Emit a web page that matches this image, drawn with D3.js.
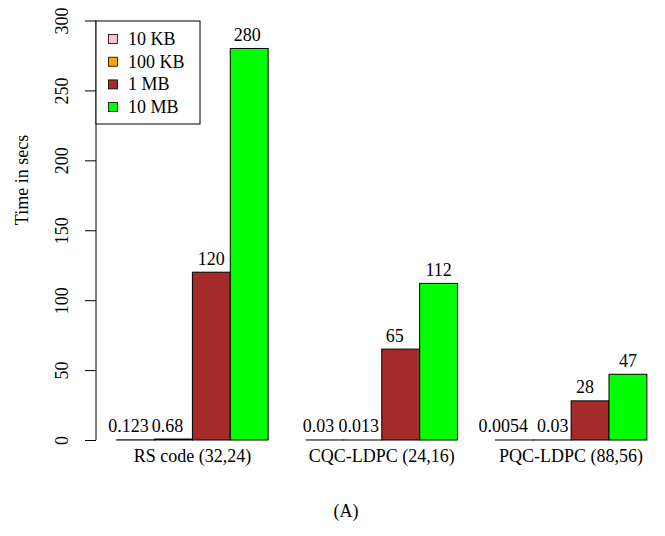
<!DOCTYPE html>
<html>
<head>
<meta charset="utf-8">
<script src="https://cdn.jsdelivr.net/npm/d3@7"></script>
<style>
  html, body { margin: 0; padding: 0; background: #fff; }
</style>
</head>
<body>
<svg id="chart" width="665" height="536"></svg>
<script>
// Encoding time per scheme and file size
const schemes = ["RS code (32,24)", "CQC-LDPC (24,16)", "PQC-LDPC (88,56)"];
const sizes = ["10 KB", "100 KB", "1 MB", "10 MB"];
const colors = ["#FFC0CB", "#FFA500", "#A52A2A", "#00FF00"];
const times10KB  = [0.123, 0.03, 0.0054];
const times100KB = [0.68, 0.013, 0.03];
const times1MB   = [120, 65, 28];
const times10MB  = [280, 112, 47];
const yTicks = [0, 50, 100, 150, 200, 250, 300];

const series = [times10KB, times100KB, times1MB, times10MB];
const FONT = "'Liberation Serif', 'Times New Roman', 'DejaVu Serif', serif";
// Horizontal nudge (px) of each value label, per size then per scheme
const labelNudge = [[-7, -6.5, -11], [-6, -4, 0.5], [0, -6, -5], [-2, 0, 0]];
const svg = d3.select("#chart");

// Bar-unit layout: each group holds 4 bars with one empty unit between groups
const barUnits = schemes.length * (sizes.length + 1);
const x = d3.scaleLinear().domain([0, barUnits]).range([78.8, 78.8 + barUnits * 37.87]);
const y = d3.scaleLinear().domain([0, 300]).range([440, 20.5]);

const bars = [];
schemes.forEach((s, g) => {
  sizes.forEach((z, i) => {
    const u = g * (sizes.length + 1) + 1 + i;
    bars.push({ g, i, u, v: series[i][g] });
  });
});

// Bars
svg.append("g").selectAll("rect").data(bars).join("rect")
  .attr("x", d => x(d.u))
  .attr("width", x(1) - x(0))
  .attr("y", d => y(d.v))
  .attr("height", d => y(0) - y(d.v))
  .attr("fill", d => colors[d.i])
  .attr("stroke", "#000")
  .attr("stroke-width", 1);

// Value labels
svg.append("g").selectAll("text").data(bars).join("text")
  .attr("x", d => x(d.u + 0.5) + labelNudge[d.i][d.g])
  .attr("y", d => y(d.v) - 7.5)
  .attr("text-anchor", "middle")
  .attr("font-family", FONT)
  .attr("font-size", 18)
  .text(d => String(d.v));

// Y axis
const yAxis = d3.axisLeft(y).tickValues(yTicks).tickSize(11).tickPadding(0).tickFormat(d3.format("d"));
const ax = svg.append("g").attr("transform", "translate(96,0)").call(yAxis);
ax.attr("font-family", FONT);
ax.select(".domain").attr("d", `M0,${y(300)}V${y(0)}`).attr("stroke", "#000");
ax.selectAll(".tick line").attr("stroke", "#000");
ax.selectAll(".tick text")
  .attr("font-size", 18)
  .attr("font-family", FONT)
  .attr("fill", "#000")
  .attr("text-anchor", "middle")
  .attr("transform", "translate(-28,0) rotate(-90)")
  .attr("x", 0).attr("y", 0).attr("dy", 0);

// Y axis title
svg.append("text")
  .attr("transform", "translate(28,180) rotate(-90)")
  .attr("text-anchor", "middle")
  .attr("font-family", FONT)
  .attr("font-size", 18)
  .text("Time in secs");

// Group labels
svg.append("g").selectAll("text").data(schemes).join("text")
  .attr("x", (d, g) => x(g * (sizes.length + 1) + 1 + sizes.length / 2))
  .attr("y", 462)
  .attr("text-anchor", "middle")
  .attr("font-family", FONT)
  .attr("font-size", 18)
  .text(d => d);

// Caption
svg.append("text")
  .attr("x", 346).attr("y", 517)
  .attr("text-anchor", "middle")
  .attr("font-family", FONT)
  .attr("font-size", 18)
  .text("(A)");

// Legend
const lg = svg.append("g");
lg.append("rect").attr("x", 96).attr("y", 21).attr("width", 104).attr("height", 103)
  .attr("fill", "#fff").attr("stroke", "#000");
const row = lg.selectAll("g.row").data(sizes).join("g")
  .attr("class", "row")
  .attr("transform", (d, i) => `translate(0,${39 + i * 22.7})`);
row.append("rect").attr("x", 108.5).attr("y", -4.5).attr("width", 9).attr("height", 9)
  .attr("fill", (d, i) => colors[i]).attr("stroke", "#000").attr("stroke-width", 0.8);
row.append("text").attr("x", 128).attr("y", 6)
  .attr("font-family", FONT).attr("font-size", 18).text(d => d);
</script>
</body>
</html>
